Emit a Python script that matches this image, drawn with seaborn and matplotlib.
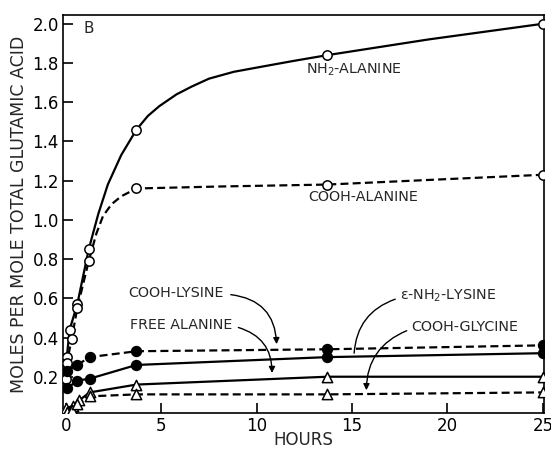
import matplotlib
matplotlib.use("Agg")
import matplotlib.pyplot as plt
import seaborn as sns

sns.set_theme(style="ticks")
plt.rcParams['font.family'] = ['DejaVu Sans']
plt.rcParams['mathtext.default'] = 'regular'

# --- measured points (hours, moles per mole total glutamic acid) ---
nh2_ala_t = [0.05, 0.2, 0.6, 1.2, 3.7, 13.7, 25.0]
nh2_ala_v = [0.30, 0.44, 0.57, 0.85, 1.46, 1.84, 2.00]
cooh_ala_t = [0.0, 0.05, 0.3, 0.6, 1.2, 3.7, 13.7, 25.0]
cooh_ala_v = [0.19, 0.27, 0.39, 0.55, 0.79, 1.16, 1.18, 1.23]
cooh_lys_t = [0.05, 0.6, 1.25, 3.7, 13.7, 25.0]
cooh_lys_v = [0.23, 0.26, 0.30, 0.33, 0.34, 0.36]
eps_lys_t = [0.05, 0.6, 1.25, 3.7, 13.7, 25.0]
eps_lys_v = [0.14, 0.18, 0.19, 0.26, 0.30, 0.32]
free_ala_t = [0.0, 0.35, 0.7, 1.25, 3.7, 13.7, 25.0]
free_ala_v = [0.04, 0.05, 0.08, 0.12, 0.16, 0.20, 0.20]
cooh_gly_t = [0.05, 0.3, 0.6, 1.25, 3.7, 13.7, 25.0]
cooh_gly_v = [0.02, 0.03, 0.06, 0.10, 0.11, 0.11, 0.12]

# --- hand-drawn curve traces ---
nh2_curve_t = [0.05, 0.2, 0.6, 1.2, 1.7, 2.2, 2.9, 3.7, 4.3, 4.9, 5.8, 6.6,
               7.5, 8.8, 10.2, 11.9, 13.7, 19.0, 25.0]
nh2_curve_v = [0.30, 0.44, 0.57, 0.85, 1.03, 1.18, 1.33, 1.46, 1.53, 1.58, 1.64, 1.68,
               1.72, 1.755, 1.78, 1.81, 1.84, 1.92, 2.00]
cooh_curve_t = [0.0, 0.05, 0.3, 0.6, 1.2, 1.6, 1.95, 2.4, 2.9, 3.7, 8.0, 13.7, 25.0]
cooh_curve_v = [0.19, 0.27, 0.39, 0.55, 0.79, 0.93, 1.02, 1.08, 1.12, 1.16, 1.17, 1.18, 1.23]

x_ticks = [0, 5, 10, 15, 20, 25]
y_ticks = [0.2, 0.4, 0.6, 0.8, 1.0, 1.2, 1.4, 1.6, 1.8, 2.0]
y_ticklabels = ["0.2", "0.4", "0.6", "0.8", "1.0", "1.2", "1.4", "1.6", "1.8", "2.0"]

fig = plt.figure(figsize=(5.51, 4.53), dpi=100)
ax = fig.add_axes([0.1143, 0.0883, 0.8727, 0.8787])

LW = 1.6
DASH = (0, (3.6, 1.9))

def draw_line(t, v, ls):
    sns.lineplot(x=t, y=v, ax=ax, color="black", linewidth=LW, linestyle=ls,
                 sort=False, estimator=None, zorder=2)

def draw_marks(t, v, marker, face, size):
    sns.scatterplot(x=t, y=v, ax=ax, marker=marker, s=size, facecolor=face,
                    edgecolor="black", linewidth=1.1, zorder=3)

draw_line(nh2_curve_t, nh2_curve_v, "-")
draw_line(cooh_curve_t, cooh_curve_v, DASH)
draw_line(cooh_lys_t, cooh_lys_v, DASH)
draw_line(eps_lys_t, eps_lys_v, "-")
draw_line(free_ala_t, free_ala_v, "-")
draw_line(cooh_gly_t, cooh_gly_v, DASH)

draw_marks(nh2_ala_t, nh2_ala_v, "o", "white", 45)
draw_marks(cooh_ala_t, cooh_ala_v, "o", "white", 45)
draw_marks(cooh_lys_t, cooh_lys_v, "o", "black", 50)
draw_marks(eps_lys_t, eps_lys_v, "o", "black", 50)
draw_marks(free_ala_t, free_ala_v, "^", "white", 55)
draw_marks(cooh_gly_t, cooh_gly_v, "^", "white", 55)

ax.set_xlim(-0.15, 25.05)
ax.set_ylim(0.015, 2.045)
ax.set_xticks(x_ticks)
ax.set_xticklabels([str(x) for x in x_ticks])
ax.set_yticks(y_ticks)
ax.set_yticklabels(y_ticklabels)
ax.tick_params(direction="in", length=7, width=1.2, labelsize=12, colors="black", pad=3)
for sp in ax.spines.values():
    sp.set_visible(True)
    sp.set_linewidth(1.2)
    sp.set_color("black")

ax.set_xlabel("HOURS", fontsize=12, labelpad=-3)
ax.set_ylabel("MOLES PER MOLE TOTAL GLUTAMIC ACID", fontsize=12.5, labelpad=3)

fs = 10.3
ax.text(0.95, 1.975, "B", fontsize=11, va="center")
ax.text(12.6, 1.765, "NH$_2$-ALANINE", fontsize=fs, va="center")
ax.text(12.7, 1.117, "COOH-ALANINE", fontsize=fs, va="center")
ax.text(3.25, 0.628, "COOH-LYSINE", fontsize=fs, va="center")
ax.text(3.35, 0.464, "FREE ALANINE", fontsize=fs, va="center")
ax.text(17.5, 0.612, "\u03b5-NH$_2$-LYSINE", fontsize=fs, va="center")
ax.text(18.1, 0.454, "COOH-GLYCINE", fontsize=fs, va="center")

arrow_kw = dict(arrowstyle="-|>", color="black", lw=1.0, mutation_scale=9)
ax.annotate("", xy=(11.05, 0.352), xytext=(8.5, 0.62),
            arrowprops=dict(connectionstyle="arc3,rad=-0.45", **arrow_kw))
ax.annotate("", xy=(10.8, 0.205), xytext=(8.9, 0.455),
            arrowprops=dict(connectionstyle="arc3,rad=-0.4", **arrow_kw))
ax.annotate("", xy=(15.1, 0.306), xytext=(17.4, 0.60),
            arrowprops=dict(arrowstyle="-", color="black", lw=1.0,
                            connectionstyle="arc3,rad=0.35"))
ax.annotate("", xy=(15.75, 0.117), xytext=(18.0, 0.44),
            arrowprops=dict(connectionstyle="arc3,rad=0.35", **arrow_kw))

fig.savefig("out.png", dpi=100)
